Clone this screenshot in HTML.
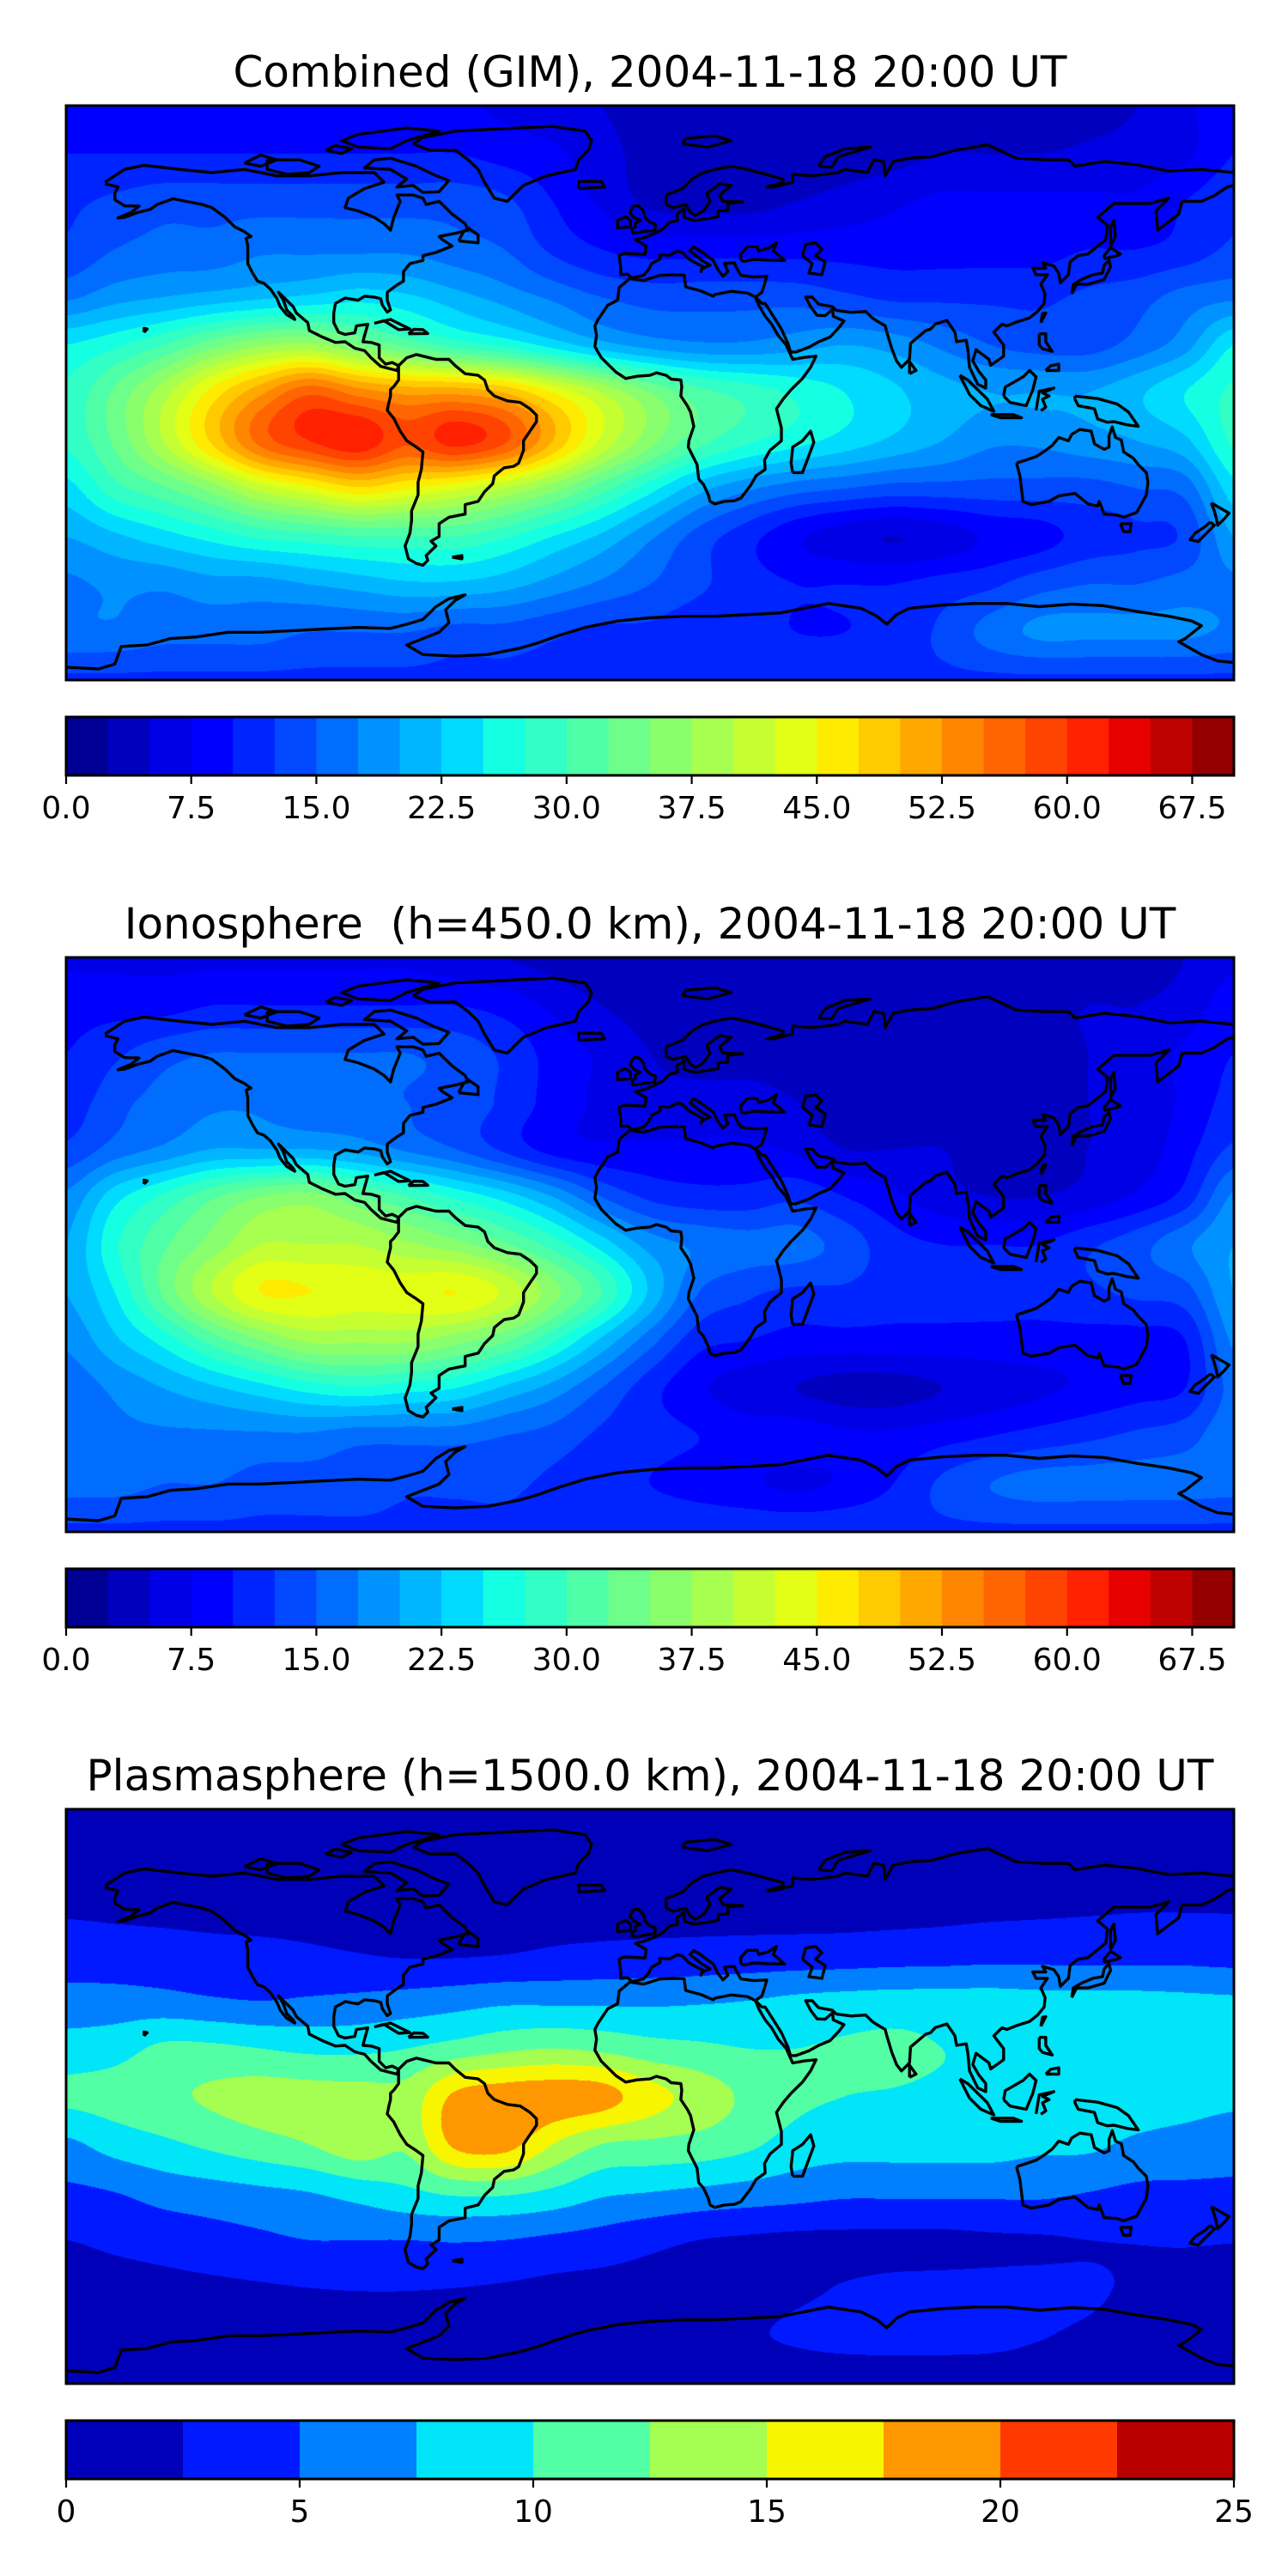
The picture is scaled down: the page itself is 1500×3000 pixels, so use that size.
<!DOCTYPE html>
<html><head><meta charset="utf-8"><title>TEC maps</title>
<style>
html,body{margin:0;padding:0;background:#fff;}
body{width:1500px;height:3000px;position:relative;overflow:hidden;font-family:"DejaVu Sans","Liberation Sans",sans-serif;}
.title{position:absolute;left:0;width:1514px;text-align:center;font-size:50px;white-space:pre;color:#000;line-height:1;}
canvas.map{position:absolute;left:77px;width:1360px;height:669px;}
svg.ov{position:absolute;left:0;width:1500px;height:1000px;overflow:visible;}
</style></head>
<body>
<div id="root"></div>
<script>
// ---- chart data ----
const gridLats=[90,75,60,45,30,15,0,-15,-30,-45,-60,-75,-90];
const gridLons=[-180,-165,-150,-135,-120,-105,-90,-75,-60,-45,-30,-15,0,15,30,45,60,75,90,105,120,135,150,165,180];
const combinedTec=[
[9,9,9,9,9,9,9,9,8,7,6,5,4,3.5,3,3,3,3,3,3,3,4,5,7,9],
[10,10,10,10,10,10,10,10,10,9,8,6,4,3,3,3,3.5,4,5,5,5,5.5,6,7,10],
[12,13,14,14,14,14,14,14,14,13,10,7,4.5,4,4,5,6,7,8,8,8,8,8,10,12],
[13,15,16,16,17,17,17,17,16,15,12,10,9,9,9,9,9,9,9,9,9,10,10,11,13],
[17,19,20,21,22,23,24,23,21,19,17,15,14,14,14,14,13,12,12,12,12,13,14,16,17],
[25,27,30,34,37,38,35,32,29,27,24,21,19,18,18,19,20,19,17,15,14,14,16,19,25],
[28,33,39,46,52,57,54,52,52,50,45,40,35,31,29,27,25,23,21,20,20,20,22,25,28],
[28,33,40,48,56,60,62,58,61,58,50,42,36,31,28,26,24,22,20,18,18,19,20,22,28],
[24,29,32,36,41,44,47,45,43,40,36,31,26,21,18,16,15,14,14,14,14,14,15,16,24],
[20,22,24,26,28,29,30,30,30,28,25,22,18,14,11,8,6,5,6,8,9,11,12,13,20],
[17,18,18,19,19,20,21,22,22,21,19,17,15,13,11,10,10,10,11,12,14,15,15,16,17],
[17,17,16,16,16,15,15,15,14,14,13,12,12,11,11,10,10,11,13,16,18,18,18,18,17],
[12,12,12,12,12,12,12,12,12,12,12,12,12,12,12,12,12,12,12,12,12,12,12,12,12]];
const ionoTec=[
[7,7,7,7,7,7,7,7,6,5,4,3,3,3,3,3,3,3,3,3,3,3,4,5,7],
[9,9,9,10,10,10,10,10,10,9,7,5,4,4,4,4,4,4,4,4,4,5,5,6,9],
[10,12,14,15,15,15,15,15,14,12,9,7,5,4,4,4,4,4,4,4,4,5,6,8,10],
[11,14,16,17,17,16,16,15,14,12,9,7,6,6,6,5,4,4,4,4,4,5,6,8,11],
[13,16,18,20,20,20,19,17,15,12,9,8,8,8,8,7,5,5,5,4,4,5,6,9,13],
[18,24,28,32,35,36,33,30,27,24,20,15,12,11,11,12,10,8,6,5,5,6,8,11,18],
[20,27,32,36,40,40,40,38,36,33,29,24,19,17,16,16,14,11,10,10,10,12,14,17,20],
[20,25,33,40,45,45,44,44,45,42,36,30,22,15,13,12,12,11,11,11,11,12,13,14,20],
[18,22,26,31,35,38,38,38,36,33,28,22,16,11,10,9,9,9,9,9,9,9,9,10,18],
[16,18,20,22,24,26,27,26,25,22,19,15,11,8,6,5,4,4,5,6,7,8,9,10,16],
[17,17,17,17,17,17,16,16,16,15,14,12,11,10,9,9,8,8,9,10,11,12,13,14,17],
[16,16,15,15,14,14,14,13,13,13,12,11,10,9,8,7,8,10,13,15,16,16,16,16,16],
[12,12,12,12,12,12,12,12,12,12,12,12,12,12,12,12,12,12,12,12,12,12,12,12,12]];
const plasmaTec=[
[1.5,1.5,1.5,1.5,1.5,1.5,1.5,1.5,1.5,1.5,1.5,1.5,1.5,1.5,1.5,1.5,1.5,1.5,1.5,1.5,1.5,1.5,1.5,1.5,1.5],
[1.5,1.5,1.5,1.5,1.5,1.5,1.5,1.5,1.5,1.5,1.5,1.5,1.5,1.5,1.5,1.5,1.5,1.5,1.5,1.5,1.5,1.5,1.5,1.5,1.5],
[2.2,2.1,2,1.9,1.8,1.8,1.8,1.8,1.8,1.8,1.8,1.8,1.8,1.8,1.8,1.8,1.8,1.8,1.9,2,2.1,2.2,2.3,2.3,2.3],
[3.5,3.4,3.3,3.1,3,2.8,2.5,2.2,2.2,2.4,2.8,3,3.1,3.2,3.3,3.4,3.5,3.7,3.8,4,4,4,4,4,3.8],
[6,6,5.8,5.3,5,5.3,5.6,6,6.5,7,7,7,7,7.2,7.5,8,8.3,8.5,8.5,8.5,8.3,8.3,8.2,8,7.8],
[8.5,9,10.5,10.5,10,9.5,9.5,10,11,12,12.5,12,11,10.5,10,10,10.3,10.5,10,9.5,9.5,9.5,9,8.5,8],
[10.5,11,12,12.8,13.5,13.5,13.5,13.5,18,19,19,18.5,16,14,12,10.5,10,9.8,9.5,9.5,9.5,9.5,9,8.5,8],
[7,8.5,9.5,10.5,11.5,12.5,14,13,18,18.5,15,12.5,12,11.5,10.5,9,8.5,8.5,8.5,8.5,8,8,7,6.5,6],
[4.5,5,6,6.5,7,7.5,8.5,9.5,10.5,10.5,9.5,8,7.5,7,6.5,6,5.5,5.5,5.5,5.5,5.5,5,4.5,4.5,4.5],
[2.5,3,3.5,4,4.5,5,5,5,5.2,5,4.5,4,3.2,2.5,2.2,2,2,2,2,2.2,2.3,2.5,2.6,2.7,2.6],
[1.5,1.7,1.9,2.1,2.3,2.5,2.6,2.6,2.5,2.3,2,1.8,1.7,1.7,1.8,2.2,2.6,2.9,3,3,3,2.8,2.2,1.8,1.5],
[1.5,1.5,1.5,1.6,1.7,1.8,1.8,1.8,1.7,1.6,1.6,1.6,1.6,1.8,2.3,2.7,3,3.1,3.1,3,2.6,2.2,1.8,1.6,1.5],
[1.5,1.5,1.5,1.5,1.5,1.5,1.5,1.5,1.5,1.5,1.5,1.5,1.5,1.5,1.5,1.5,1.5,1.5,1.5,1.5,1.5,1.5,1.5,1.5,1.5]];
const tecLevels=[0,2.5,5,7.5,10,12.5,15,17.5,20,22.5,25,27.5,30,32.5,35,37.5,40,42.5,45,47.5,50,52.5,55,57.5,60,62.5,65,67.5,70];
const plasmaLevels=[0,2.5,5,7.5,10,12.5,15,17.5,20,22.5,25];
const tecTickValues=[0,7.5,15,22.5,30,37.5,45,52.5,60,67.5];
const tecTickLabels=["0.0","7.5","15.0","22.5","30.0","37.5","45.0","52.5","60.0","67.5"];
const plasmaTickValues=[0,5,10,15,20,25];
const plasmaTickLabels=["0","5","10","15","20","25"];
const panelTitles=["Combined (GIM), 2004-11-18 20:00 UT","Ionosphere  (h=450.0 km), 2004-11-18 20:00 UT","Plasmasphere (h=1500.0 km), 2004-11-18 20:00 UT"];

// ---- coastlines (lon,lat) ----
const coasts=[
[[-168,66],[-162,70],[-156,71.3],[-145,70],[-135,69],[-125,70],[-115,68],[-105,68],[-95,69],[-85,69],[-82,66],[-88,64],[-93,61],[-94,58],[-90,57],[-85,55],[-82,53],[-80,51],[-79,55],[-77,60],[-78,62],[-73,62],[-70,61],[-69,59],[-65,60],[-61,56],[-57,53],[-56,51],[-60,50],[-65,49],[-64,48],[-61,46],[-66,44],[-70,43],[-70,41.5],[-74,40.5],[-76,38],[-76,35],[-78,33.8],[-81,31.5],[-81,29],[-80,26],[-81,25.3],[-82.5,27.5],[-83,29.5],[-85,30],[-88,30.3],[-90,29],[-94,29.7],[-97,28],[-97.5,25],[-97.5,22],[-96,19],[-94,18.3],[-91,18.8],[-90.5,21],[-87,21.5],[-88,18],[-88.5,16],[-86,15.8],[-83.5,15],[-83.5,11],[-81.5,9],[-79.5,9.5],[-77.5,8.5],[-78,7],[-80,7.5],[-83,8.3],[-86,11],[-88,13.2],[-91,14],[-94,16],[-97,15.8],[-101,17.5],[-105,19.5],[-105.5,22],[-109,25],[-110,27],[-112.5,29.5],[-114.5,31.5],[-113,29],[-112,26],[-110,24],[-109.5,23],[-112,24.5],[-114,27],[-115,29.5],[-117,32.5],[-119,34.3],[-121,35],[-122.5,37.5],[-124,40.5],[-124,46],[-124.5,48.4],[-123,49],[-125,50.5],[-128,52],[-131,55],[-135,58],[-138,59],[-143,60],[-147,60.8],[-152,59],[-154,57.5],[-158,56.5],[-162,55],[-164,54.8],[-160,56.5],[-157.5,58.5],[-162,58.6],[-165,60.5],[-165,62.5],[-164,64.5],[-168,65.5]],
[[-73,78],[-68,76],[-60,76],[-56,73],[-53,70],[-51,66],[-48,61],[-44,60],[-42,62],[-39,65],[-32,68],[-23,70],[-22,73],[-19,76],[-18,79],[-20,82],[-30,83.5],[-45,82.8],[-60,82],[-70,80],[-73,78]],
[[-80,73.5],[-72,71],[-67,68.5],[-62,66.5],[-65,63],[-70,62.8],[-73,65],[-78,64.5],[-75,67],[-80,70],[-88,70.5],[-85,73],[-80,73.5]],
[[-118,73],[-108,73],[-102,71],[-105,69],[-112,68.5],[-118,70],[-118,73]],
[[-90,77],[-80,76.5],[-75,79],[-65,82],[-75,83],[-90,81],[-95,79],[-90,77]],
[[-125,72],[-120,74.5],[-115,73],[-120,71],[-125,72]],
[[-100,76],[-95,75],[-92,76.5],[-97,77.5],[-100,76]],
[[-77.5,8.5],[-75,11],[-72,12],[-70,11.5],[-66,10.5],[-62,10.5],[-60,8.5],[-57,6],[-53,5.5],[-51,4],[-50,1],[-48,-1],[-44,-2.5],[-40,-3],[-37,-5],[-35,-7],[-35,-9],[-37,-12],[-39,-15],[-39,-18],[-40.5,-22],[-42,-23],[-45,-23.5],[-48,-26],[-48.5,-28.5],[-51,-31],[-53,-34],[-57,-35],[-57,-38],[-62,-39],[-65,-41],[-65,-45],[-67.5,-46.5],[-66,-48],[-69,-51],[-68.5,-52.5],[-70,-54],[-72,-53.5],[-74.5,-52],[-75.5,-48],[-74,-44],[-73.5,-40],[-73.5,-37],[-71.5,-32],[-71.5,-28],[-70.5,-24],[-70,-18.5],[-72,-17],[-75,-15],[-77,-12],[-79,-8],[-81,-5.5],[-80.5,-3],[-80,-1],[-80,1],[-79,2],[-77.5,4],[-77.5,7],[-77.5,8.5]],
[[-6,36],[-9.5,33],[-10,29],[-13,27.5],[-16,23],[-17,21],[-16.5,18],[-17,14.5],[-15,11],[-13,9],[-10.5,6.5],[-7.5,4.5],[-4,5.2],[0,5.5],[2,6.3],[5,5.5],[6.5,4.3],[9.5,4],[9.8,2],[9.5,-1],[11.5,-4],[12.5,-6],[13.5,-10.5],[12,-15],[11.8,-17],[14.5,-22.5],[15,-27],[16.5,-28.7],[18,-32],[18.5,-34],[20,-34.8],[23,-34],[26,-33.8],[28,-33],[31,-29],[32.7,-26],[35.5,-24],[35.3,-21],[37,-18],[40.5,-15],[40.5,-11],[39.5,-7],[39,-5],[41,-2],[43.5,1],[47,4.5],[49.5,8],[51.2,11.5],[48,11.2],[44,10.5],[43.3,12],[42,15],[39.5,18],[37.5,21.5],[35.5,24],[33.5,27.5],[32.5,30],[30,31.3],[25,31.8],[20,30.8],[19.5,30.3],[15.5,32],[11,33.2],[10.5,36.9],[8,37],[3,36.8],[-2,35.2],[-6,35.8]],
[[32.5,30],[34.5,31.5],[35,33],[36,36.5],[32,36.3],[28,36.8],[26.5,39.5],[26,40.8],[23,40.5],[24,38],[22.5,36.5],[21,38.5],[19.5,41.5],[15.5,44.5],[13.5,45.7],[12.3,44.5],[16,41.5],[18.5,40],[16,38.9],[15.7,38],[16.5,39.5],[15,40.2],[12,41.9],[10,44],[8.5,44.4],[6,43.1],[3,43.3],[3.2,42],[0.5,40.5],[-0.5,38.5],[-2,36.8],[-5.5,36],[-7,37.2],[-9,37],[-9,39],[-9.5,43],[-8,43.7],[-1.5,43.4],[-1.2,46],[-4.5,48],[-1.5,48.7],[1.5,50],[4,51.3],[6,53.4],[8.5,54],[8.3,56],[10.5,57.7],[10.5,55],[12.5,54.3],[14,54],[18.5,54.7],[21,55.2],[21,57],[24,57.2],[24,59.3],[28.5,59.8],[22.5,60],[21.5,62],[25,65],[21.5,65.5],[17.5,62.5],[18.5,60],[16.5,57],[14,55.5],[12.5,56.5],[11,59],[7,58],[5,59],[5,62],[10,64],[13,67],[16,68.8],[20,70],[25,71],[30,70],[33,69.2],[41,67],[41,66],[36,64.5],[38,64.5],[44,66],[44,68.5],[50,68],[54,68.5],[58,69],[60,70],[67,69],[69,73],[72,72.5],[72.5,68],[75,72.5],[80,73.5],[87,74],[94,76],[104,77.7],[113,73.5],[122,73],[129,73],[131,71],[140,72.5],[150,71.5],[160,69.5],[170,70],[180,69]],
[[180,65],[178,64.5],[174,61.8],[170,60],[164,60],[163,56],[156.5,51],[156,57],[160,61],[154,59.3],[143,59.3],[138,55],[141,52.5],[140.5,48],[135,43.5],[132,43],[129.5,41],[129,37],[126.5,34.5],[126,37.5],[124.5,39.7],[121,40.8],[122,39],[118,39],[119,37],[122.5,37],[120.5,34],[121.8,31],[121.5,28],[119.5,25.5],[117,23.5],[113,22.2],[110,21],[108.5,21.5],[106,19],[109,15],[109,11.5],[105,8.6],[104.5,10.5],[100.5,13.5],[99.5,10],[101.3,6.8],[103.5,4],[103.5,1.5],[101,2.7],[98.5,8],[98,13.5],[97.5,16.5],[94.5,16],[94,19],[91.5,22.7],[88,21.6],[86.5,20],[85,19.5],[80.3,15.5],[80,10.5],[77.5,8],[76,10],[74.5,14],[73,19],[72.5,21],[70,22.5],[68.5,23.5],[66.5,25.5],[62,25.2],[57.5,25.8],[56.2,27],[52,27.8],[50,30],[48,30],[49.5,27],[51.5,24.3],[54,24.2],[56.3,26.2],[56.5,24],[59.8,22.5],[58.3,20.5],[55.5,17.5],[52,16],[49,14.3],[45,12.8],[43.3,12.8],[42.5,15.5],[40.5,20],[38,24],[35.5,28],[34.5,28],[32.5,30]],
[[28,41.5],[28,43.5],[30,45.8],[33,45.8],[33.5,44.5],[36.5,45.3],[39,47],[38,44.5],[41.5,41.5],[36,41.6],[32,41.8],[29,41.2],[28,41.5]],
[[47,43],[48,46.5],[51,47],[53,45],[51,43],[54,41],[53,37],[49,37.5],[50,40.5],[47,43]],
[[-5.5,50],[1.5,51],[1.7,52.8],[0,53.5],[-1.5,55],[-2,57],[-3.5,58.6],[-5,58.6],[-6.2,56.5],[-5,55],[-3,54],[-4.5,53.3],[-4.5,52],[-5.5,51.5],[-5.5,50]],
[[-6,52],[-6,54],[-7.5,55.2],[-10,54],[-10,51.6],[-6,52]],
[[-22,64],[-14,64.5],[-15,66.2],[-22,66.3],[-22,64]],
[[44,-25],[47,-25],[50.5,-15.5],[49.5,-12],[47,-15],[44,-17],[43.5,-22],[44,-25]],
[[130,31],[131.5,34],[135,34],[140,35.5],[142,39.5],[141.5,41.5],[140,40],[139.5,37.5],[136.5,37],[133,35.5],[130.5,34],[130,31]],
[[140,42],[144,43],[145,43.5],[142,45.5],[140,43],[140,42]],
[[142,46],[143.5,49],[143,54],[142,52],[142,46]],
[[95.5,5.5],[98,4],[104,-2],[106,-5.8],[102,-4],[98.5,-0.5],[95.5,5.5]],
[[105,-6.8],[112,-6.8],[114.5,-7.8],[108,-7.8],[105,-6.8]],
[[109,-1],[109.5,1.8],[115,5],[117,7],[119,5],[118,1],[116,-4],[111,-3],[109,-1]],
[[119,-5.5],[120,0.5],[124.5,1.5],[121,0],[123,-1],[121,-2],[122,-4.5],[120.5,-5.6]],
[[131,-1],[138,-1.8],[144,-3.5],[147.5,-6],[150.5,-10.5],[147,-10],[143,-9],[141,-9.2],[138,-8.2],[137,-5],[132,-4],[131,-2],[131,-1]],
[[120,18.5],[122,18.5],[122,16],[124,13],[121,13.8],[120,15],[120,18.5]],
[[122,7],[126,7],[126,9],[123.5,8.5],[122,7]],
[[120.5,22],[122,25],[121,24.8],[120.5,22]],
[[80,6],[82,7],[80,9.8],[80,6]],
[[113,-22],[114,-26],[115,-34],[117.5,-35],[123,-34],[126,-32.3],[131,-31.5],[135,-34.8],[138,-35.5],[138.5,-34],[140,-38],[144,-38.3],[146,-39],[150,-37.5],[153,-32],[153.5,-28],[153,-25],[150.5,-22.5],[149,-20.5],[146,-18.5],[145.3,-14.8],[143.5,-14],[142.5,-10.7],[141.5,-13.5],[141.5,-17],[140,-17.7],[137,-16],[136,-12],[132.5,-11.5],[130,-13],[129,-15],[126,-14],[124,-16.5],[122,-18],[119,-20],[116,-21],[113,-22]],
[[145,-41],[148.3,-41],[148,-43.5],[146,-43.5],[145,-41]],
[[173,-34.5],[178.5,-37.7],[177,-39.5],[175,-41.5],[174.5,-39],[173.8,-36.5],[173,-34.5]],
[[172.7,-40.5],[174,-41.5],[171,-44.5],[169,-46.6],[166.5,-46],[168,-44],[171,-42],[172.7,-40.5]],
[[-85,21.8],[-80,23],[-74,20],[-77.5,19.8],[-82,22.6],[-85,21.8]],
[[-74.5,18.5],[-68.5,18.6],[-70,19.8],[-72.8,19.9],[-74.5,18.5]],
[[-59,47.6],[-53,47],[-53,49.5],[-56,51.6],[-57.5,50.5],[-59,47.6]],
[[10,78],[18,77],[25,79],[20,80.5],[11,79.7],[10,78]],
[[52,71],[56,70.7],[58,74],[68,77],[60,76.5],[54,74],[52,71]],
[[-61,-51.5],[-58,-51],[-58,-52],[-61,-51.5]],
[[-156,19],[-155,20],[-156,20.2],[-156,19]],
[[-180,-86],[-170,-86.5],[-165,-85],[-163,-79.5],[-155,-79],[-148,-77],[-140,-76.5],[-130,-75],[-120,-75],[-110,-74.5],[-100,-74],[-90,-73.5],[-80,-73.8],[-75,-72.5],[-70,-71],[-66,-67],[-62,-64.5],[-57,-63.3],[-60,-65],[-63,-68],[-62,-72],[-65,-75],[-75,-79],[-70,-82],[-60,-82.5],[-50,-82],[-40,-80],[-35,-78.5],[-28,-76],[-20,-73.5],[-10,-71.5],[0,-70.5],[10,-70],[20,-70],[30,-69.5],[40,-69],[50,-67],[55,-66],[65,-67.5],[70,-70],[73,-72.5],[76,-69.5],[80,-67.5],[90,-66.5],[100,-66],[110,-66],[120,-67],[130,-66.2],[140,-66.7],[150,-68.5],[160,-70],[167,-71.5],[170,-73],[165,-77],[163,-78],[170,-82],[175,-84],[180,-84.5]]
];

// ---- rendering ----
const MAPX=77,MAPW=1360,MAPH=669,PANEL_DY=992,MAPY=123,CBY=835,CBH=68;
const SVGNS="http://www.w3.org/2000/svg";
function jetCh(pts,x){for(let i=1;i<pts.length;i++){if(x<=pts[i][0]){const a=pts[i-1],b=pts[i];return a[1]+(b[1]-a[1])*(x-a[0])/(b[0]-a[0]);}}return pts[pts.length-1][1];}
function jet(x){
  const r=jetCh([[0,0],[0.35,0],[0.66,1],[0.89,1],[1,0.5]],x);
  const g=jetCh([[0,0],[0.125,0],[0.375,1],[0.64,1],[0.91,0],[1,0]],x);
  const b=jetCh([[0,0.5],[0.11,1],[0.34,1],[0.65,0],[1,0]],x);
  return [Math.round(r*255),Math.round(g*255),Math.round(b*255)];
}
function cr(p0,p1,p2,p3,t){return 0.5*((2*p1)+(-p0+p2)*t+(2*p0-5*p1+4*p2-p3)*t*t+(-p0+3*p1-3*p2+p3)*t*t*t);}
const lonX=lon=>(lon+180)/360*MAPW;
const latY=lat=>(90-lat)/180*MAPH;

const root=document.getElementById('root');
const cfgs=[[combinedTec,tecLevels,tecTickValues,tecTickLabels,'combined'],[ionoTec,tecLevels,tecTickValues,tecTickLabels,'ionosphere'],[plasmaTec,plasmaLevels,plasmaTickValues,plasmaTickLabels,'plasmasphere']];
cfgs.forEach((cfg,k)=>{
  const [grid,levels,tickV,tickL,nm]=cfg;
  const off=k*PANEL_DY;
  const nb=levels.length-1;
  const cols=[];for(let i=0;i<nb;i++)cols.push(jet((i+0.5)/nb));
  const vmin=levels[0],vmax=levels[nb];
  const t=document.createElement('div');
  t.className='title';t.style.top=(off+88-29)+'px';t.textContent=panelTitles[k];
  
  
  root.appendChild(t);
  const cv=document.createElement('canvas');
  cv.className='map';cv.width=MAPW;cv.height=MAPH;cv.style.top=(off+MAPY)+'px';
  
  
  root.appendChild(cv);
  const ctx=cv.getContext('2d');const img=ctx.createImageData(MAPW,MAPH);
  const nr=grid.length,nc=grid[0].length;
  const rowsH=[];
  for(let r=0;r<nr;r++){const arr=new Float32Array(MAPW);
    for(let px=0;px<MAPW;px++){const lon=-180+(px+0.5)/MAPW*360;const u=(lon-gridLons[0])/(gridLons[1]-gridLons[0]);
      let i=Math.floor(u);if(i>nc-2)i=nc-2;const f=u-i;
      const g=j=>grid[r][Math.max(0,Math.min(nc-1,j))];
      arr[px]=cr(g(i-1),g(i),g(i+1),g(i+2),f);}
    rowsH.push(arr);}
  for(let py=0;py<MAPH;py++){const lat=90-(py+0.5)/MAPH*180;const v=(gridLats[0]-lat)/(gridLats[0]-gridLats[1]);
    let j=Math.floor(v);if(j>nr-2)j=nr-2;const f=v-j;
    const R=q=>rowsH[Math.max(0,Math.min(nr-1,q))];
    const a=R(j-1),b=R(j),c=R(j+1),d=R(j+2);
    for(let px=0;px<MAPW;px++){const val=cr(a[px],b[px],c[px],d[px],f);
      let idx=Math.floor((val-vmin)/(vmax-vmin)*nb);if(idx<0)idx=0;if(idx>nb-1)idx=nb-1;
      const col=cols[idx];const o=(py*MAPW+px)*4;img.data[o]=col[0];img.data[o+1]=col[1];img.data[o+2]=col[2];img.data[o+3]=255;}}
  ctx.putImageData(img,0,0);
  const svg=document.createElementNS(SVGNS,'svg');
  svg.setAttribute('class','ov');svg.style.top=off+'px';
  
  
  root.appendChild(svg);
  const mg=document.createElementNS(SVGNS,'g');mg.setAttribute('transform','translate('+MAPX+','+MAPY+')');
  
  
  svg.appendChild(mg);
  const cp=document.createElementNS(SVGNS,'clipPath');cp.setAttribute('id','clip'+k);
  const cr2=document.createElementNS(SVGNS,'rect');cr2.setAttribute('width',MAPW);cr2.setAttribute('height',MAPH);cp.appendChild(cr2);mg.appendChild(cp);
  coasts.forEach(line=>{const pl=document.createElementNS(SVGNS,'polyline');
    pl.setAttribute('points',line.map(p=>lonX(p[0]).toFixed(1)+','+latY(p[1]).toFixed(1)).join(' '));
    pl.setAttribute('fill','none');pl.setAttribute('stroke','#000');pl.setAttribute('stroke-width','3.4');pl.setAttribute('stroke-linejoin','round');
    pl.setAttribute('clip-path','url(#clip'+k+')');
    
    
    mg.appendChild(pl);});
  const fr=document.createElementNS(SVGNS,'rect');
  fr.setAttribute('x',MAPX);fr.setAttribute('y',MAPY);fr.setAttribute('width',MAPW);fr.setAttribute('height',MAPH);fr.setAttribute('fill','none');fr.setAttribute('stroke','#000');fr.setAttribute('stroke-width','3');
  
  
  svg.appendChild(fr);
  const cb=document.createElementNS(SVGNS,'g');
  
  
  svg.appendChild(cb);
  const cbX=v=>MAPX+(v-vmin)/(vmax-vmin)*MAPW;
  for(let i=0;i<nb;i++){const r=document.createElementNS(SVGNS,'rect');
    r.setAttribute('x',cbX(levels[i]));r.setAttribute('y',CBY);r.setAttribute('width',cbX(levels[i+1])-cbX(levels[i])+0.6);r.setAttribute('height',CBH);
    r.setAttribute('fill','rgb('+cols[i].join(',')+')');
    
    
    cb.appendChild(r);}
  const cf=document.createElementNS(SVGNS,'rect');
  cf.setAttribute('x',MAPX);cf.setAttribute('y',CBY);cf.setAttribute('width',MAPW);cf.setAttribute('height',CBH);cf.setAttribute('fill','none');cf.setAttribute('stroke','#000');cf.setAttribute('stroke-width','3');
  
  
  cb.appendChild(cf);
  tickV.forEach((v,i)=>{const x=cbX(v);
    const ln=document.createElementNS(SVGNS,'line');
    ln.setAttribute('x1',x);ln.setAttribute('x2',x);ln.setAttribute('y1',CBY+CBH);ln.setAttribute('y2',CBY+CBH+10);ln.setAttribute('stroke','#000');ln.setAttribute('stroke-width','2.2');
    
    
    cb.appendChild(ln);
    const tx=document.createElementNS(SVGNS,'text');
    tx.setAttribute('x',x);tx.setAttribute('y',CBY+CBH+50);tx.setAttribute('text-anchor','middle');tx.setAttribute('font-size','36');
    tx.setAttribute('font-family','DejaVu Sans, Liberation Sans, sans-serif');
    tx.textContent=tickL[i];
    
    
    cb.appendChild(tx);});
});
</script>
</body></html>
